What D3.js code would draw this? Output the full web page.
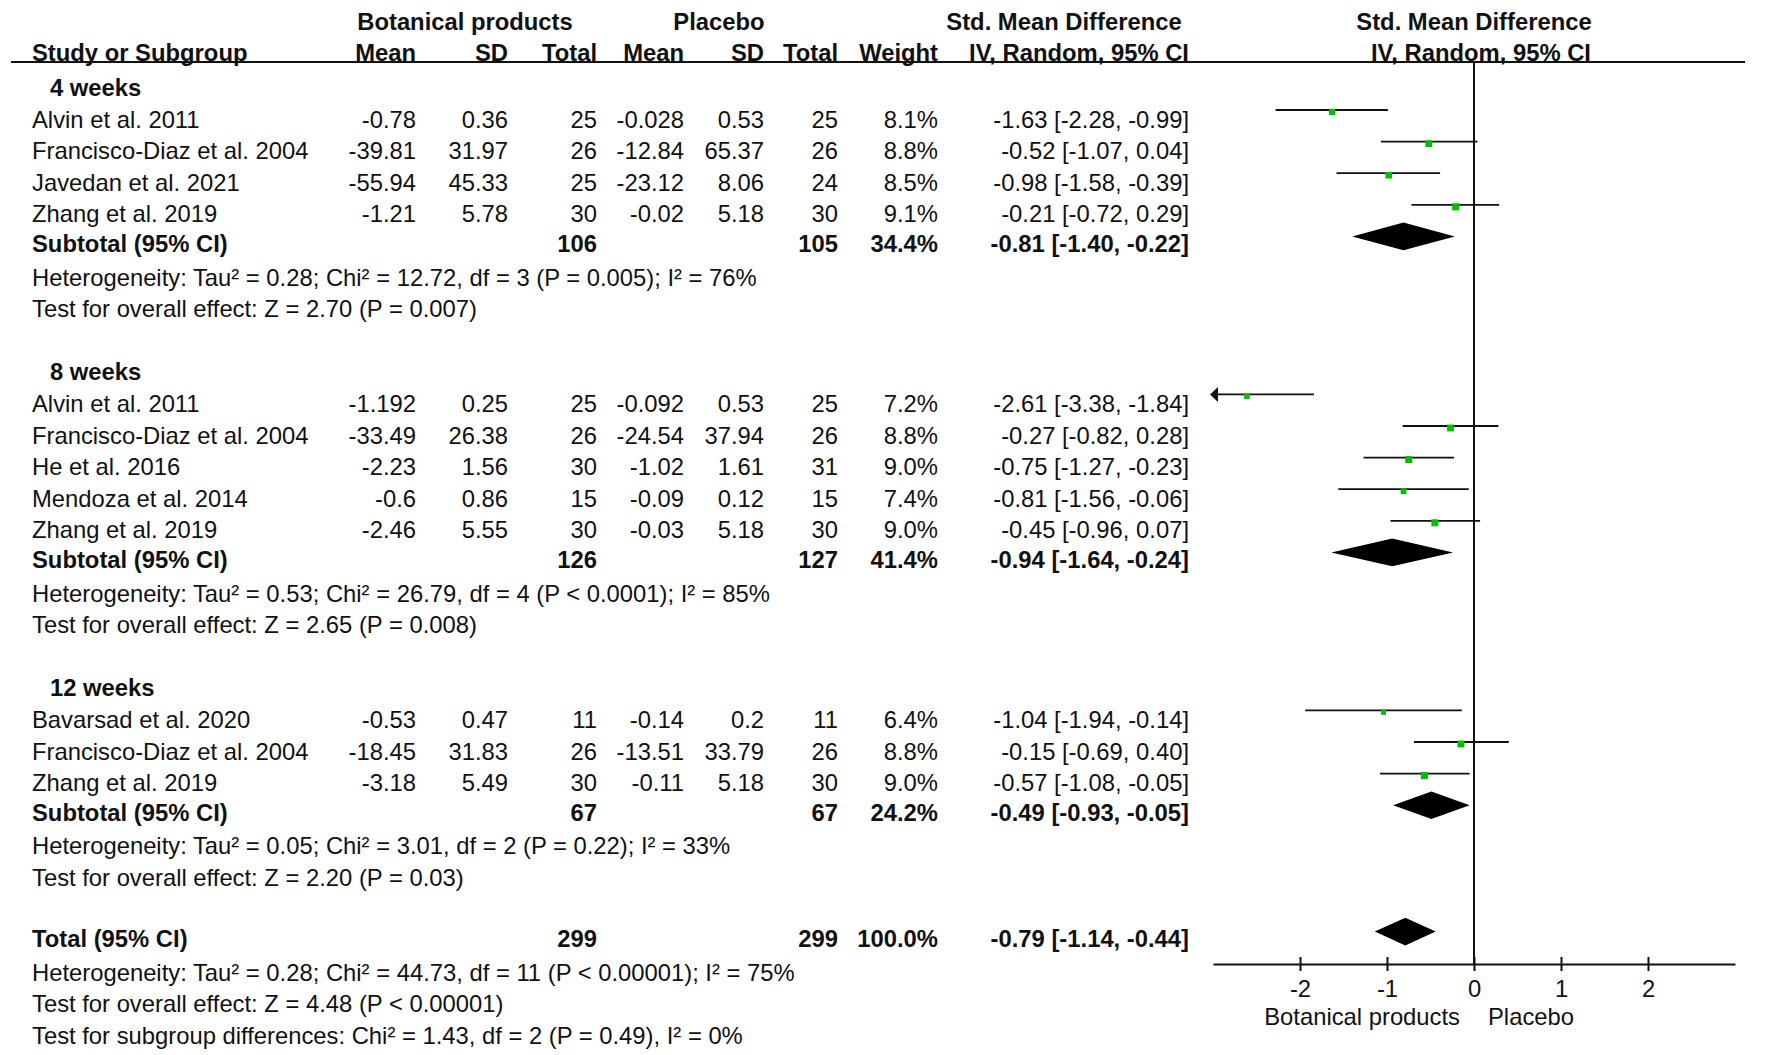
<!DOCTYPE html>
<html>
<head>
<meta charset="utf-8">
<script src="https://cdn.jsdelivr.net/npm/d3@7"></script>
<style>
  body { margin: 0; background: #fff; }
  svg { display: block; font-family: "Liberation Sans", Arial, sans-serif; }
</style>
</head>
<body>
<div id="chart"></div>
<script>
// ---- data ----
const groups = ["4 weeks", "8 weeks", "12 weeks"];

const studyNames = [
  "Alvin et al. 2011", "Francisco-Diaz et al. 2004", "Javedan et al. 2021", "Zhang et al. 2019",
  "Alvin et al. 2011", "Francisco-Diaz et al. 2004", "He et al. 2016", "Mendoza et al. 2014", "Zhang et al. 2019",
  "Bavarsad et al. 2020", "Francisco-Diaz et al. 2004", "Zhang et al. 2019"
];
const studyGroup = [0, 0, 0, 0, 1, 1, 1, 1, 1, 2, 2, 2];

const botMean = [-0.78, -39.81, -55.94, -1.21, -1.192, -33.49, -2.23, -0.6, -2.46, -0.53, -18.45, -3.18];
const botSD = [0.36, 31.97, 45.33, 5.78, 0.25, 26.38, 1.56, 0.86, 5.55, 0.47, 31.83, 5.49];
const botTotal = [25, 26, 25, 30, 25, 26, 30, 15, 30, 11, 26, 30];
const plaMean = [-0.028, -12.84, -23.12, -0.02, -0.092, -24.54, -1.02, -0.09, -0.03, -0.14, -13.51, -0.11];
const plaSD = [0.53, 65.37, 8.06, 5.18, 0.53, 37.94, 1.61, 0.12, 5.18, 0.2, 33.79, 5.18];
const plaTotal = [25, 26, 24, 30, 25, 26, 31, 15, 30, 11, 26, 30];
const weight = [8.1, 8.8, 8.5, 9.1, 7.2, 8.8, 9.0, 7.4, 9.0, 6.4, 8.8, 9.0];
const smd = [-1.63, -0.52, -0.98, -0.21, -2.61, -0.27, -0.75, -0.81, -0.45, -1.04, -0.15, -0.57];
const ciLow = [-2.28, -1.07, -1.58, -0.72, -3.38, -0.82, -1.27, -1.56, -0.96, -1.94, -0.69, -1.08];
const ciHigh = [-0.99, 0.04, -0.39, 0.29, -1.84, 0.28, -0.23, -0.06, 0.07, -0.14, 0.40, -0.05];

const subBotTotal = [106, 126, 67];
const subPlaTotal = [105, 127, 67];
const subWeight = [34.4, 41.4, 24.2];
const subSmd = [-0.81, -0.94, -0.49];
const subLow = [-1.40, -1.64, -0.93];
const subHigh = [-0.22, -0.24, -0.05];
const subHetero = [
  "Heterogeneity: Tau² = 0.28; Chi² = 12.72, df = 3 (P = 0.005); I² = 76%",
  "Heterogeneity: Tau² = 0.53; Chi² = 26.79, df = 4 (P < 0.0001); I² = 85%",
  "Heterogeneity: Tau² = 0.05; Chi² = 3.01, df = 2 (P = 0.22); I² = 33%"
];
const subTest = [
  "Test for overall effect: Z = 2.70 (P = 0.007)",
  "Test for overall effect: Z = 2.65 (P = 0.008)",
  "Test for overall effect: Z = 2.20 (P = 0.03)"
];

const totalBot = 299, totalPla = 299, totalWeight = 100.0;
const totalSmd = -0.79, totalLow = -1.14, totalHigh = -0.44;
const totalNotes = [
  "Heterogeneity: Tau² = 0.28; Chi² = 44.73, df = 11 (P < 0.00001); I² = 75%",
  "Test for overall effect: Z = 4.48 (P < 0.00001)",
  "Test for subgroup differences: Chi² = 1.43, df = 2 (P = 0.49), I² = 0%"
];

const xTicks = [-2, -1, 0, 1, 2];
const xDomain = [-3, 3];

// ---- layout ----
const W = 1772, H = 1055;
const rowH = 31.6, row0 = 78.4;
const lineY = k => row0 + k * rowH;
const fs = 23.8;
const ink = "#111";
const green = "#00c000";

// right edges of the numeric columns
const col = { bMean: 416, bSD: 508, bTot: 597, pMean: 684, pSD: 764, pTot: 838, wt: 938, ci: 1189 };

const fmt2 = v => v.toFixed(2);
const ciText = (m, lo, hi) => `${fmt2(m)} [${fmt2(lo)}, ${fmt2(hi)}]`;

// build the row list
const rows = [];
let k = 0;
groups.forEach((g, gi) => {
  rows.push({ type: "group", k: k++, label: g });
  studyNames.forEach((name, i) => {
    if (studyGroup[i] !== gi) return;
    rows.push({ type: "study", k: k++, i });
  });
  rows.push({ type: "subtotal", k: k++, gi });
  rows.push({ type: "note", k: k++, label: subHetero[gi] });
  rows.push({ type: "note", k: k++, label: subTest[gi] });
  k++;
});
const totalK = k;
rows.push({ type: "total", k: k++ });
totalNotes.forEach(t => rows.push({ type: "note", k: k++, label: t }));

const svg = d3.select("#chart").append("svg")
  .attr("width", W).attr("height", H);

const x = d3.scaleLinear().domain(xDomain).range([1213, 1735]);
const axisY = lineY(totalK) + 32.4;
const headRuleY = 62;

function txt(xp, yp, s, anchor, bold) {
  svg.append("text")
    .attr("x", xp).attr("y", yp)
    .attr("text-anchor", anchor || "start")
    .attr("font-size", fs)
    .attr("font-weight", bold ? "bold" : "normal")
    .attr("fill", ink)
    .text(s);
}

// ---- headers ----
txt(465, 30, "Botanical products", "middle", true);
txt(719, 30, "Placebo", "middle", true);
txt(1064, 30, "Std. Mean Difference", "middle", true);
txt(x(0), 30, "Std. Mean Difference", "middle", true);

txt(32, 61, "Study or Subgroup", "start", true);
txt(col.bMean, 61, "Mean", "end", true);
txt(col.bSD, 61, "SD", "end", true);
txt(col.bTot, 61, "Total", "end", true);
txt(col.pMean, 61, "Mean", "end", true);
txt(col.pSD, 61, "SD", "end", true);
txt(col.pTot, 61, "Total", "end", true);
txt(col.wt, 61, "Weight", "end", true);
txt(col.ci, 61, "IV, Random, 95% CI", "end", true);
txt(x(0) + 7, 61, "IV, Random, 95% CI", "middle", true);

svg.append("line")
  .attr("x1", 11).attr("x2", 1745)
  .attr("y1", headRuleY).attr("y2", headRuleY)
  .attr("stroke", ink).attr("stroke-width", 2);

// zero line
svg.append("line")
  .attr("x1", x(0)).attr("x2", x(0))
  .attr("y1", headRuleY).attr("y2", axisY)
  .attr("stroke", ink).attr("stroke-width", 2);

// ---- rows ----
const sq = d3.scaleLinear().domain([0, 10]).range([0, 7.8]);

function diamond(yc, m, lo, hi) {
  const h = 13.8;
  svg.append("path")
    .attr("d", `M${x(lo)},${yc}L${x(m)},${yc - h}L${x(hi)},${yc}L${x(m)},${yc + h}Z`)
    .attr("fill", "#000");
}

rows.forEach(r => {
  const ly = lineY(r.k);
  const base = ly + 17.5;
  if (r.type === "group") {
    txt(50, base, r.label, "start", true);
  } else if (r.type === "note") {
    txt(32, base, r.label, "start", false);
  } else if (r.type === "study") {
    const i = r.i;
    txt(32, base, studyNames[i]);
    txt(col.bMean, base, String(botMean[i]), "end");
    txt(col.bSD, base, String(botSD[i]), "end");
    txt(col.bTot, base, String(botTotal[i]), "end");
    txt(col.pMean, base, String(plaMean[i]), "end");
    txt(col.pSD, base, String(plaSD[i]), "end");
    txt(col.pTot, base, String(plaTotal[i]), "end");
    txt(col.wt, base, weight[i].toFixed(1) + "%", "end");
    txt(col.ci, base, ciText(smd[i], ciLow[i], ciHigh[i]), "end");

    const lo = Math.max(ciLow[i], xDomain[0]);
    const hi = Math.min(ciHigh[i], xDomain[1]);
    svg.append("line")
      .attr("x1", x(lo)).attr("x2", x(hi))
      .attr("y1", ly).attr("y2", ly)
      .attr("stroke", ink).attr("stroke-width", 1.8);
    if (ciLow[i] < xDomain[0]) {
      const tip = x(xDomain[0]) - 3;
      svg.append("path")
        .attr("d", `M${tip},${ly}L${tip + 8},${ly - 7.5}L${tip + 8},${ly + 7.5}Z`)
        .attr("fill", ink);
    }
    const s = sq(weight[i]);
    svg.append("rect")
      .attr("x", x(smd[i]) - s / 2).attr("y", ly + 2 - s / 2)
      .attr("width", s).attr("height", s)
      .attr("fill", green);
  } else if (r.type === "subtotal") {
    const g = r.gi;
    const b = ly + 15.5;
    txt(32, b, "Subtotal (95% CI)", "start", true);
    txt(col.bTot, b, String(subBotTotal[g]), "end", true);
    txt(col.pTot, b, String(subPlaTotal[g]), "end", true);
    txt(col.wt, b, subWeight[g].toFixed(1) + "%", "end", true);
    txt(col.ci, b, ciText(subSmd[g], subLow[g], subHigh[g]), "end", true);
    diamond(ly, subSmd[g], subLow[g], subHigh[g]);
  } else if (r.type === "total") {
    const b = ly + 15.5;
    txt(32, b, "Total (95% CI)", "start", true);
    txt(col.bTot, b, String(totalBot), "end", true);
    txt(col.pTot, b, String(totalPla), "end", true);
    txt(col.wt, b, totalWeight.toFixed(1) + "%", "end", true);
    txt(col.ci, b, ciText(totalSmd, totalLow, totalHigh), "end", true);
    diamond(ly, totalSmd, totalLow, totalHigh);
  }
});

// ---- x axis ----
const axis = svg.append("g")
  .attr("transform", `translate(0,${axisY})`)
  .call(d3.axisBottom(x).tickValues(xTicks).tickSize(7).tickSizeOuter(0).tickPadding(9)
    .tickFormat(d => String(d)));
axis.select(".domain").attr("stroke", ink).attr("stroke-width", 2);
axis.selectAll(".tick line").attr("y1", -7).attr("stroke", ink).attr("stroke-width", 2);
axis.selectAll(".tick text")
  .attr("font-size", fs).attr("font-family", "Liberation Sans, Arial, sans-serif").attr("fill", ink);

txt(x(0) - 14, axisY + 61, "Botanical products", "end");
txt(x(0) + 14, axisY + 61, "Placebo", "start");
</script>
</body>
</html>
